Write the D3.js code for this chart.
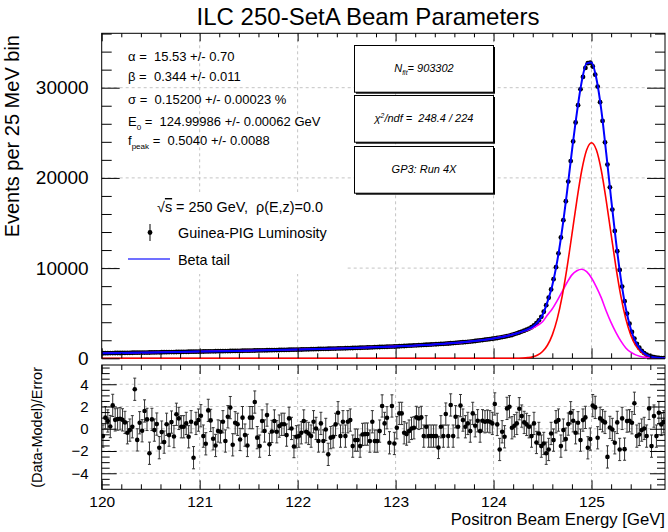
<!DOCTYPE html>
<html>
<head>
<meta charset="utf-8">
<script src="https://cdn.jsdelivr.net/npm/d3@7"></script>
<style>
body { margin: 0; background: #fff; }
svg { font-family: "Liberation Sans", Arial, Helvetica, sans-serif; }
</style>
</head>
<body>
<script>
// ---- values ----
const xTicks = [120, 121, 122, 123, 124, 125];
const yTicks = [0, 10000, 20000, 30000];
const resTicks = [-4, -2, 0, 2, 4];

// histogram: 25 MeV bins starting at 120 GeV
const binStart = 120, binWidth = 0.025;
const counts = [
  560,565,570,575,580,585,590,590,595,600,605,610,615,620,625,630,635,635,640,645,
  650,655,660,665,670,675,680,685,690,695,700,705,710,715,720,725,730,735,740,745,
  750,755,760,765,770,775,780,785,790,795,800,805,810,815,820,825,830,835,840,845,
  850,856,862,868,874,880,886,892,898,904,910,916,922,928,934,940,946,952,958,964,
  970,978,985,993,1000,1008,1015,1023,1030,1038,1045,1053,1060,1068,1075,1083,1090,1098,1105,1113,
  1120,1130,1140,1150,1160,1170,1180,1190,1200,1210,1220,1230,1240,1250,1260,1270,1280,1290,1300,1310,
  1320,1335,1350,1365,1380,1395,1410,1425,1440,1455,1470,1485,1500,1515,1530,1545,1560,1575,1590,1605,
  1620,1643,1666,1689,1712,1735,1758,1781,1804,1827,
  1850,1885,1920,1955,1990,2025,2060,2095,2130,2165,
  2200,2250,2300,2350,2400,2460,2520,2585,
  2690,2770,2860,2960,3060,3170,3290,3440,3635,3885,
  4210,4600,5160,5890,6710,7640,8770,10100,11640,13390,
  15310,17410,19590,21860,24040,26140,28060,29820,31190,32190,
  32720,32770,32350,31440,30120,28390,26320,23940,21480,18950,
  16490,14110,11870,9800,7950,6330,4960,3840,2920,2190,
  1610,1170,830,580,400,270,180,120,75,50,30,18
];

// (data - model) / error per bin
const pulls = [
  -0.66,1.0,0.7,0.2,2.1,0.8,0.87,0.9,0.8,0.57,
  -0.36,-0.12,0.18,3.55,-1.0,0.54,-0.18,1.6,0.84,-2.2,
  0.84,-0.12,0.42,-1.7,-0.3,-1.2,0.4,-0.57,0.6,-0.7,
  1.3,0.93,0.18,0.18,0.48,-0.72,0.63,-2.6,0.48,0.78,
  1.17,-0.66,-1.35,1.65,0.75,-0.9,-1.5,-0.2,-0.27,0.63,
  -1.1,1.08,1.9,-1.44,0.54,0.4,-0.96,1.0,-0.57,-1.5,
  1.0,1.0,2.4,-0.8,-1.56,0.7,-0.2,1.23,-1.4,-0.24,
  0.7,-0.27,0.24,0.4,0.4,-0.57,0.93,0.03,-1.6,-0.72,
  -0.66,-0.36,0.7,-0.27,-0.42,-0.66,0.63,0.03,-1.1,0.48,
  -1.1,-0.06,-2.3,-0.8,-0.72,
  0.39,1.44,-0.66,0.63,-0.66,0.63,0.78,-1.56,-1.02,-1.02,
  -1.56,-0.51,-0.48,-0.48,-1.11,0.63,-1.11,-1.11,-0.21,2.05,
  0.48,0.99,-1.26,2.05,-1.32,0.09,1.38,1.38,-0.36,-0.48,
  -0.21,0.03,0.09,1.02,0.93,1.02,-0.66,0.18,-0.66,-0.66,
  -0.66,-0.66,-1.68,0.18,-0.66,1.32,-0.66,2.14,-0.66,1.08,
  0.18,2.08,0.78,0.18,0.48,-0.21,1.38,0.27,0.72,-0.21,
  0.72,0.63,0.69,0.63,0.48,2.23,0.39,-1.86,-0.27,-0.72,
  1.83,1.98,0.09,0.27,0.48,1.8,1.14,0.57,0.39,0.18,
  -0.66,0.48,-1.23,-0.42,-1.56,-1.32,-2.2,-1.86,-0.42,-1.02,
  0.63,0.78,-1.56,-0.12,-0.93,0.42,1.44,0.72,-0.36,0.54,
  -1.02,0.78,1.02,-1.71,-0.93,2.08,1.92,-0.81,0.93,0.72,
  0.57,-2.53,0.12,-0.06,-1.26,0.57,-1.86,0.93,-1.83,0.69,
  0.72,0.54,2.29,-0.66,-0.51,-0.12,0.03,-0.66,1.83,-1.56,
  1.14,-0.66,1.44,0.39,0.63
];
const pullErr = 1;

// fit curves
const curveE = [120,120.5,121,121.5,122,122.5,123,123.5,123.75,124,124.1,124.2,
  124.25,124.3,124.35,124.4,124.45,124.5,124.55,124.6,124.65,124.7,124.75,124.8,124.85,124.9,124.95,
  125,125.05,125.1,125.15,125.2,125.25,125.3,125.35,125.4,125.45,125.5,125.55,125.6,125.65,125.7,125.75];
const fitTotal = [560,650,750,850,970,1120,1320,1620,1850,2200,2400,2653,
  2810,3007,3220,3510,4010,4800,6250,8100,10770,14260,18460,22990,27190,30690,32690,
  32800,30990,27520,22740,17690,12910,8760,5520,3280,1830,950,460,205,90,35,13];
const fitPeak = [0,0,0,0,0,0,0,0,0,0,0,3,
  10,27,70,160,360,750,1450,2600,4370,6860,10060,13740,17490,20820,23090,
  23900,23090,20820,17490,13740,10060,6860,4370,2600,1450,750,360,160,70,27,10];
const fitTail = [560,650,750,850,970,1120,1320,1620,1850,2200,2400,2650,
  2800,2980,3150,3350,3650,4050,4800,5500,6400,7400,8400,9250,9700,9870,9600,
  8900,7900,6700,5250,3950,2850,1900,1150,680,380,200,100,45,20,8,3];

const paramLines = [
  [["α", null], [" = \u00a015.53 +/- 0.70", null]],
  [["β", null], [" = \u00a00.344 +/- 0.011", null]],
  [["σ", null], [" = \u00a00.15200 +/- 0.00023 %", null]],
  [["E", null], ["0", "sub"], [" = \u00a0124.99986 +/- 0.00062 GeV", null]],
  [["f", null], ["peak", "sub"], [" = \u00a00.5040 +/- 0.0088", null]]
];
const boxLines = [
  [["N", null], ["fit", "sub"], ["= 903302", null]],
  [["χ", null], ["2", "sup"], ["/ndf = \u00a0248.4 / 224", null]],
  [["GP3: Run 4X", null]]
];

// ---- layout ----
const svg = d3.select("body").append("svg").attr("width", 668).attr("height", 532);
const L = 101.7, R = 665, T = 33.3, B = 358.3, RT = 365, RB = 489.3;

const x = d3.scaleLinear().domain([120, 125.75]).range([L, R]);
const y = d3.scaleLinear().domain([0, 36030]).range([B, T]);
const yr = d3.scaleLinear().domain([-5.44, 5.73]).range([RB, RT]);

const binE = counts.map((d, i) => binStart + (i + 0.5) * binWidth);

svg.append("defs").call(d => {
  d.append("clipPath").attr("id", "cm").append("rect").attr("x", L).attr("y", T).attr("width", R - L).attr("height", B - T + 0.8);
  d.append("clipPath").attr("id", "cr").append("rect").attr("x", L).attr("y", RT).attr("width", R - L).attr("height", RB - RT);
});

function rich(t, parts, size) {
  let shift = 0;
  parts.forEach(([s, kind]) => {
    const ts = t.append("tspan").text(s);
    let want = 0;
    if (kind === "sub") { ts.attr("font-size", size * 0.62); want = size * 0.3; }
    if (kind === "sup") { ts.attr("font-size", size * 0.62); want = -size * 0.4; }
    if (want !== shift) ts.attr("dy", want - shift);
    shift = want;
  });
}

// grid
const grid = svg.append("g").attr("stroke", "#c4c4c4").attr("stroke-dasharray", "3,3").attr("stroke-width", 1);
xTicks.slice(1).forEach(v => {
  grid.append("line").attr("x1", x(v)).attr("x2", x(v)).attr("y1", T).attr("y2", B);
  grid.append("line").attr("x1", x(v)).attr("x2", x(v)).attr("y1", RT).attr("y2", RB);
});
yTicks.slice(1).forEach(v => grid.append("line").attr("x1", L).attr("x2", R).attr("y1", y(v)).attr("y2", y(v)));
resTicks.forEach(v => grid.append("line").attr("x1", L).attr("x2", R).attr("y1", yr(v)).attr("y2", yr(v)));

// legend background hides the grid
svg.append("rect").attr("x", 118).attr("y", 192).attr("width", 227).attr("height", 82).attr("fill", "#fff");

// info boxes
const boxG = svg.append("g");
boxLines.forEach((parts, i) => {
  const top = [45, 95, 146][i];
  boxG.append("rect").attr("x", 356).attr("y", top + 2).attr("width", 139).attr("height", 46.7).attr("fill", "#000");
  boxG.append("rect").attr("x", 354.5).attr("y", top + 0.5).attr("width", 139).attr("height", 46.7)
    .attr("fill", "#fff").attr("stroke", "#000").attr("stroke-width", 1);
  const t = boxG.append("text").attr("x", 424).attr("y", top + 27).attr("text-anchor", "middle")
    .attr("font-size", 11).attr("font-style", "italic");
  rich(t, parts, 11);
});

// frames
[[T, B], [RT, RB]].forEach(([a, b]) => {
  svg.append("rect").attr("x", L).attr("y", a).attr("width", R - L).attr("height", b - a)
    .attr("fill", "none").attr("stroke", "#000").attr("stroke-width", 1);
});

// data points
svg.append("g").attr("clip-path", "url(#cm)")
  .selectAll("circle").data(counts).join("circle")
  .attr("cx", (d, i) => x(binE[i])).attr("cy", d => y(d)).attr("r", 2.4).attr("fill", "#000");

// fit curves
const line = vals => d3.line().x((d, i) => x(curveE[i])).y(d => y(d)).curve(d3.curveMonotoneX)(vals);
const cg = svg.append("g").attr("clip-path", "url(#cm)").attr("fill", "none");
cg.append("path").attr("d", line(fitTail)).attr("stroke", "#ff00ff").attr("stroke-width", 1.6);
cg.append("path").attr("d", line(fitPeak)).attr("stroke", "#ff0000").attr("stroke-width", 1.6);
cg.append("path").attr("d", line(fitTotal)).attr("stroke", "#0000ff").attr("stroke-width", 2);

// residuals
const rg = svg.append("g").attr("clip-path", "url(#cr)");
rg.selectAll("line.eb").data(pulls).join("line").attr("class", "eb")
  .attr("x1", (d, i) => x(binE[i])).attr("x2", (d, i) => x(binE[i]))
  .attr("y1", d => yr(d - pullErr)).attr("y2", d => yr(d + pullErr))
  .attr("stroke", "#333").attr("stroke-width", 1);
[-1, 1].forEach(s => {
  rg.selectAll("line.cap" + (s > 0 ? "u" : "d")).data(pulls).join("line")
    .attr("x1", (d, i) => x(binE[i]) - 1.5).attr("x2", (d, i) => x(binE[i]) + 1.5)
    .attr("y1", d => yr(d + s * pullErr)).attr("y2", d => yr(d + s * pullErr))
    .attr("stroke", "#333").attr("stroke-width", 1);
});
rg.selectAll("circle").data(pulls).join("circle")
  .attr("cx", (d, i) => x(binE[i])).attr("cy", d => yr(d)).attr("r", 2.3).attr("fill", "#000");

// inward ticks
function ticks(axis, tr, vals, size) {
  svg.append("g").attr("transform", tr)
    .call(axis.tickValues(vals).tickSize(size).tickFormat(""))
    .call(g => g.select(".domain").remove());
}
const xMinor = d3.range(120, 125.76, 0.2).filter(v => Math.abs(v - Math.round(v)) > 1e-6);
const yMinor = d3.range(0, 36001, 2000).filter(v => v % 10000 !== 0);
const rMinor = d3.range(-5, 5.6, 0.5).filter(v => v % 2 !== 0);

ticks(d3.axisBottom(x), `translate(0,${B})`, xTicks, -10);
ticks(d3.axisBottom(x), `translate(0,${B})`, xMinor, -5);
ticks(d3.axisTop(x), `translate(0,${T})`, xTicks, -8);
ticks(d3.axisTop(x), `translate(0,${T})`, xMinor, -4);
ticks(d3.axisLeft(y), `translate(${L},0)`, yTicks, -18);
ticks(d3.axisLeft(y), `translate(${L},0)`, yMinor, -10);
ticks(d3.axisRight(y), `translate(${R},0)`, yTicks, -18);
ticks(d3.axisRight(y), `translate(${R},0)`, yMinor, -10);

ticks(d3.axisBottom(x), `translate(0,${RB})`, xTicks, -9);
ticks(d3.axisBottom(x), `translate(0,${RB})`, xMinor, -5);
ticks(d3.axisTop(x), `translate(0,${RT})`, xTicks, -9);
ticks(d3.axisTop(x), `translate(0,${RT})`, xMinor, -5);
ticks(d3.axisLeft(yr), `translate(${L},0)`, resTicks, -15);
ticks(d3.axisLeft(yr), `translate(${L},0)`, rMinor, -8);
ticks(d3.axisRight(yr), `translate(${R},0)`, resTicks, -15);
ticks(d3.axisRight(yr), `translate(${R},0)`, rMinor, -8);

// tick labels
function labels(axis, tr, vals, size, pad) {
  svg.append("g").attr("transform", tr)
    .call(axis.tickValues(vals).tickSize(0).tickPadding(pad))
    .call(g => g.select(".domain").remove())
    .call(g => g.selectAll("text").attr("font-size", size).attr("font-family", null).attr("fill", "#000"));
}
labels(d3.axisLeft(y).tickFormat(d3.format("d")), `translate(${L},0)`, yTicks, 19, 13);
labels(d3.axisLeft(yr).tickFormat(d3.format("d")), `translate(${L},0)`, resTicks, 15, 13);
labels(d3.axisBottom(x).tickFormat(d3.format("d")), `translate(0,${RB})`, xTicks, 15.5, 6.5);

// titles
svg.append("text").attr("x", 368).attr("y", 25).attr("text-anchor", "middle").attr("font-size", 24)
  .text("ILC 250-SetA Beam Parameters");
svg.append("text").attr("transform", "translate(19,35) rotate(-90)").attr("text-anchor", "end").attr("font-size", 20)
  .text("Events per 25 MeV bin");
svg.append("text").attr("transform", "translate(42,367) rotate(-90)").attr("text-anchor", "end").attr("font-size", 14.5)
  .text("(Data-Model)/Error");
svg.append("text").attr("x", 665).attr("y", 525).attr("text-anchor", "end").attr("font-size", 16.7)
  .text("Positron Beam Energy [GeV]");

// fit parameters
[61, 81, 104, 126, 145].forEach((yy, i) => {
  const t = svg.append("text").attr("x", 128).attr("y", yy).attr("font-size", 13);
  rich(t, paramLines[i], 13);
});

// legend
const lg = svg.append("g").attr("font-size", 14.4);
const t0 = lg.append("text").attr("x", 157).attr("y", 212);
t0.append("tspan").text("√");
t0.append("tspan").text("s").style("text-decoration", "overline");
t0.append("tspan").text(" = 250 GeV, \u00a0ρ(E,z)=0.0");
lg.append("line").attr("x1", 150).attr("x2", 150).attr("y1", 224).attr("y2", 241).attr("stroke", "#000");
lg.append("circle").attr("cx", 150).attr("cy", 232.5).attr("r", 2.4).attr("fill", "#000");
lg.append("text").attr("x", 178).attr("y", 238).text("Guinea-PIG Luminosity");
lg.append("line").attr("x1", 128).attr("x2", 170).attr("y1", 259).attr("y2", 259).attr("stroke", "#4040ff").attr("stroke-width", 1.5);
lg.append("text").attr("x", 178).attr("y", 265).text("Beta tail");
</script>
</body>
</html>
